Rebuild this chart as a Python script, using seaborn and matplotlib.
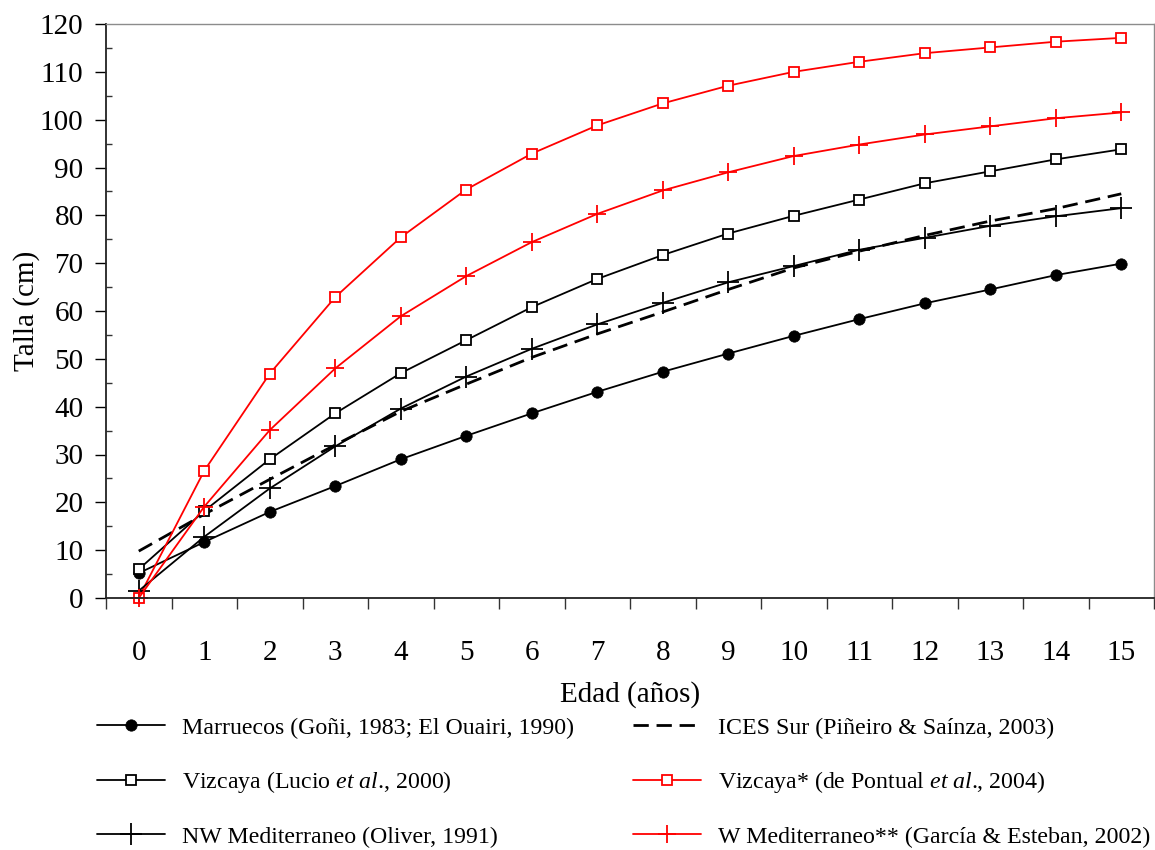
import matplotlib
matplotlib.use("Agg")
import matplotlib.pyplot as plt
from matplotlib.ticker import MultipleLocator, FixedLocator
import seaborn as sns
import numpy as np

# ---- data ----
ages = list(range(16))
marruecos = [5.2, 11.7, 18.0, 23.4, 29.0, 33.9, 38.6, 43.1, 47.3, 51.1, 54.8, 58.3, 61.6, 64.5, 67.5, 69.9]
ices_sur = [9.8, 17.5, 24.8, 32.0, 39.0, 44.7, 50.3, 55.2, 59.8, 64.5, 69.0, 72.5, 75.8, 78.8, 81.4, 84.5]
vizcaya = [6.0, 18.2, 29.0, 38.6, 47.0, 53.9, 60.8, 66.7, 71.7, 76.2, 79.9, 83.3, 86.7, 89.2, 91.7, 93.8]
vizcaya_pontual = [0.1, 26.6, 46.9, 62.9, 75.4, 85.4, 92.9, 98.8, 103.4, 107.1, 110.0, 112.1, 113.9, 115.1, 116.3, 117.1]
nw_med = [1.5, 12.8, 22.9, 31.7, 39.6, 46.3, 52.1, 57.2, 61.7, 66.0, 69.4, 72.8, 75.3, 77.8, 79.8, 81.5]
w_med = [0.0, 19.1, 35.1, 48.0, 58.9, 67.3, 74.4, 80.3, 85.2, 89.0, 92.4, 94.8, 96.9, 98.6, 100.3, 101.5]

labels = [
    "Marruecos (Goñi, 1983; El Ouairi, 1990)",
    "ICES Sur (Piñeiro & Saínza, 2003)",
    r"Vizcaya (Lucio $\it{et\ al}$., 2000)",
    r"Vizcaya* (de Pontual $\it{et\ al}$., 2004)",
    "NW Mediterraneo (Oliver, 1991)",
    "W Mediterraneo** (García & Esteban, 2002)",
]

sns.set_style("white")
plt.rcParams["font.family"] = ["Liberation Serif", "DejaVu Serif"]
plt.rcParams["mathtext.fontset"] = "custom"
plt.rcParams["mathtext.rm"] = "Liberation Serif"
plt.rcParams["mathtext.it"] = "Liberation Serif:italic"
plt.rcParams["text.color"] = "black"
plt.rcParams["axes.labelcolor"] = "black"

W, H = 1155, 850
fig = plt.figure(figsize=(W / 100, H / 100), dpi=100)
ax = fig.add_axes([106 / W, 1 - 598 / H, 1048 / W, 574 / H])

RED = "#ff0000"
BLK = "#000000"
LW = 1.3

h = {}
h["mar"] = sns.lineplot(x=ages, y=marruecos, ax=ax, color=BLK, lw=LW, marker="o",
                        markersize=8.2, markeredgecolor=BLK, markerfacecolor=BLK,
                        markeredgewidth=0.5, label=labels[0], legend=False).lines[-1]
h["ices"] = sns.lineplot(x=ages, y=ices_sur, ax=ax, color=BLK, lw=2.0,
                         linestyle=(0, (5.5, 2.8)), label=labels[1], legend=False).lines[-1]
h["viz"] = sns.lineplot(x=ages, y=vizcaya, ax=ax, color=BLK, lw=LW, marker="s",
                        markersize=6.8, markeredgecolor=BLK, markerfacecolor="white",
                        markeredgewidth=1.3, label=labels[2], legend=False).lines[-1]
h["vizp"] = sns.lineplot(x=ages, y=vizcaya_pontual, ax=ax, color=RED, lw=LW, marker="s",
                         markersize=6.8, markeredgecolor=RED, markerfacecolor="white",
                         markeredgewidth=1.3, label=labels[3], legend=False).lines[-1]
h["nw"] = sns.lineplot(x=ages, y=nw_med, ax=ax, color=BLK, lw=LW, marker="+",
                       markersize=15.5, markeredgecolor=BLK, markeredgewidth=1.3,
                       label=labels[4], legend=False).lines[-1]
h["wm"] = sns.lineplot(x=ages, y=w_med, ax=ax, color=RED, lw=LW, marker="+",
                       markersize=13, markeredgecolor=RED, markeredgewidth=1.3,
                       label=labels[5], legend=False).lines[-1]

for ln in ax.lines:
    ln.set_clip_on(False)

ax.set_xlim(-0.5, 15.5)
ax.set_ylim(0, 120)

# x axis: labels at categories, tick marks at boundaries
ax.xaxis.set_major_locator(FixedLocator(ages))
ax.set_xticklabels([str(a) for a in ages])
ax.xaxis.set_minor_locator(FixedLocator(np.arange(-0.5, 16, 1.0)))
ax.tick_params(axis="x", which="major", length=0, pad=30.5, labelsize=21, colors="black")
ax.tick_params(axis="x", which="minor", direction="out", length=7.9, width=1.0,
               color="#333333", bottom=True)

# y axis
ax.yaxis.set_major_locator(MultipleLocator(10))
ax.yaxis.set_minor_locator(FixedLocator(np.arange(5, 120, 10)))
ax.tick_params(axis="y", which="major", direction="out", length=7.7, width=1.0,
               pad=8.5, labelsize=21, colors="black", left=True)
ax.tick_params(axis="y", which="minor", direction="in", length=4.3, width=1.0,
               color="#333333", left=True)

for s in ["left", "bottom"]:
    ax.spines[s].set_color("#222222")
    ax.spines[s].set_linewidth(1.3)
for s in ["top", "right"]:
    ax.spines[s].set_color("#8c8c8c")
    ax.spines[s].set_linewidth(1.0)
    ax.spines[s].set_visible(True)

ax.set_xlabel("Edad (años)", fontsize=21, va="top", color="black")
ax.xaxis.set_label_coords(0.5, -0.1455)
ax.set_ylabel("Talla (cm)", fontsize=21, color="black")
ax.yaxis.set_label_coords((40 - 106) / 1048, 0.5)

legkw = dict(loc="upper left", frameon=False, fontsize=17.2, borderpad=0,
             borderaxespad=0, handlelength=2.85, handletextpad=0.72,
             labelspacing=1.28, markerscale=1.0, labelcolor="black")
leg1 = fig.legend([h["mar"], h["viz"], h["nw"]], [labels[0], labels[2], labels[4]],
                  bbox_to_anchor=(97 / W, 1 - 717 / H), **legkw)
leg2 = fig.legend([h["ices"], h["vizp"], h["wm"]], [labels[1], labels[3], labels[5]],
                  bbox_to_anchor=(633 / W, 1 - 717 / H), **legkw)

fig.savefig("out.png", dpi=100)
